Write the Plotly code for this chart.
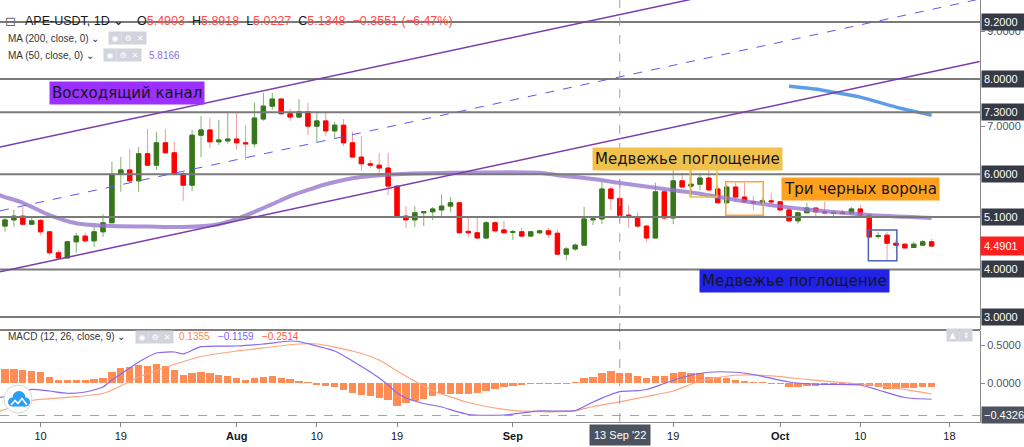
import plotly.graph_objects as go

# ---------------- data ----------------
opens = [4.91, 5.04, 5.12, 4.95, 5.03, 4.79, 4.35, 4.24, 4.58, 4.70,
         4.60, 4.79, 4.98, 6.00, 6.09, 5.86, 6.43, 6.19, 6.66, 6.45,
         6.01, 5.77, 6.82, 6.93, 6.68, 6.70, 6.74, 6.66, 6.64, 7.16,
         7.43, 7.58, 7.27, 7.20, 7.31, 7.01, 7.12, 6.91, 7.03, 6.66,
         6.36, 6.22, 6.19, 6.13, 5.75, 5.12, 5.04, 5.19, 5.21, 5.25,
         5.33, 5.40, 4.80, 4.77, 4.66, 4.98, 4.83, 4.78, 4.79, 4.70,
         4.77, 4.81, 4.76, 4.32, 4.43, 4.51, 5.04, 5.06, 5.69, 5.4903,
         5.14, 5.10, 4.91, 4.66, 5.63, 5.08, 5.86, 5.75, 5.79, 5.92,
         5.69, 5.40, 5.73, 5.52, 5.42, 5.40, 5.44, 5.42, 5.25, 5.02,
         5.19, 5.29, 5.21, 5.18, 5.20, 5.18, 5.27, 5.14, 4.69, 4.72,
         4.55, 4.53, 4.46, 4.51, 4.58]
highs = [5.12, 5.25, 5.31, 5.08, 5.06, 4.79, 4.41, 4.60, 4.77, 4.77,
         4.89, 5.16, 6.26, 6.36, 6.53, 6.57, 6.95, 6.89, 6.95, 6.68,
         6.05, 6.93, 7.22, 7.18, 7.14, 7.31, 7.29, 7.03, 7.50, 7.71,
         7.71, 7.60, 7.37, 7.58, 7.50, 7.31, 7.29, 7.10, 7.16, 6.89,
         6.80, 6.30, 6.45, 6.45, 5.77, 5.33, 5.33, 5.23, 5.31, 5.58,
         5.52, 5.42, 5.08, 5.08, 5.02, 5.02, 5.02, 4.83, 4.87, 4.81,
         4.83, 4.87, 4.83, 4.47, 4.55, 5.31, 5.12, 5.84, 5.75, 5.8918,
         5.35, 5.19, 4.93, 5.82, 5.67, 6.19, 6.03, 6.24, 6.03, 6.11,
         5.77, 5.77, 5.82, 5.82, 5.54, 5.50, 5.61, 5.42, 5.29, 5.21,
         5.40, 5.29, 5.42, 5.25, 5.25, 5.31, 5.35, 5.14, 4.79, 4.79,
         4.62, 4.55, 4.58, 4.62, 4.64]
lows = [4.79, 4.89, 4.93, 4.93, 4.72, 4.30, 4.22, 4.24, 4.35, 4.56,
        4.47, 4.68, 4.97, 5.63, 5.84, 5.63, 6.17, 6.09, 6.45, 5.98,
        5.44, 5.65, 6.36, 6.55, 6.61, 6.64, 6.51, 6.30, 6.57, 7.12,
        7.35, 7.24, 7.12, 7.20, 6.82, 6.66, 6.80, 6.76, 6.59, 6.36,
        6.07, 6.13, 5.94, 5.56, 5.10, 4.87, 4.89, 4.91, 5.04, 5.10,
        5.21, 4.76, 4.68, 4.64, 4.64, 4.77, 4.77, 4.62, 4.68, 4.68,
        4.74, 4.66, 4.30, 4.20, 4.39, 4.51, 4.93, 4.95, 5.25, 5.0227,
        4.87, 4.87, 4.58, 4.66, 5.04, 4.95, 5.73, 5.52, 5.67, 5.65,
        5.40, 5.40, 5.42, 5.40, 5.25, 5.33, 5.37, 5.23, 4.99, 4.95,
        5.19, 5.10, 5.16, 5.10, 5.16, 5.16, 5.12, 4.68, 4.64, 4.20,
        4.49, 4.45, 4.45, 4.49, 4.47]
closes = [5.04, 5.12, 4.95, 5.02, 4.79, 4.35, 4.24, 4.58, 4.70, 4.60,
          4.79, 4.98, 6.00, 6.09, 5.86, 6.43, 6.19, 6.66, 6.45, 6.01,
          5.77, 6.82, 6.93, 6.68, 6.72, 6.74, 6.66, 6.64, 7.18, 7.43,
          7.58, 7.27, 7.20, 7.31, 7.01, 7.12, 6.91, 7.03, 6.66, 6.36,
          6.22, 6.19, 6.13, 5.75, 5.10, 5.04, 5.19, 5.21, 5.27, 5.33,
          5.40, 4.77, 4.77, 4.66, 4.98, 4.81, 4.77, 4.79, 4.70, 4.79,
          4.81, 4.74, 4.32, 4.43, 4.51, 5.06, 5.06, 5.69, 5.49, 5.1348,
          5.10, 4.91, 4.66, 5.63, 5.08, 5.86, 5.73, 5.79, 5.92, 5.67,
          5.40, 5.73, 5.52, 5.42, 5.40, 5.44, 5.42, 5.25, 5.02, 5.19,
          5.29, 5.21, 5.19, 5.19, 5.18, 5.27, 5.14, 4.68, 4.71, 4.55,
          4.51, 4.45, 4.53, 4.58, 4.4901]
idx = list(range(len(closes)))  # day index, 0 = 6 Jul 2022

ma50_idx = [-1, 0, 2, 5, 8, 12, 16, 20, 24, 26, 28, 30, 32, 34, 36, 38, 40, 44, 50, 60,
            62, 66, 69, 74, 78, 82, 86, 90, 94, 98, 104]
ma50_val = [5.58, 5.52, 5.40, 5.14, 4.97, 4.91, 4.90, 4.89, 4.95, 5.06, 5.21, 5.37, 5.54, 5.67,
            5.79, 5.88, 5.94, 6.00, 6.03, 6.03, 5.98, 5.90, 5.8166, 5.69, 5.59, 5.46, 5.35,
            5.26, 5.19, 5.13, 5.08]
ma200_idx = [88, 91, 93, 96, 100, 104]
ma200_val = [7.85, 7.79, 7.72, 7.62, 7.41, 7.24]

macd_hist = [0.183, 0.183, 0.176, 0.160, 0.147, 0.084, 0.044, 0.044, 0.044, 0.044,
             0.049, 0.070, 0.151, 0.196, 0.213, 0.236, 0.227, 0.249, 0.227, 0.169,
             0.102, 0.138, 0.151, 0.138, 0.107, 0.093, 0.062, 0.044, 0.062, 0.084,
             0.098, 0.070, 0.049, 0.027, 0.004, -0.020, -0.040, -0.058, -0.093, -0.138,
             -0.156, -0.169, -0.200, -0.230, -0.300, -0.271, -0.240, -0.213, -0.173, -0.147,
             -0.147, -0.147, -0.147, -0.138, -0.100, -0.080, -0.058, -0.040, -0.027, -0.013,
             -0.002, -0.009, -0.009, -0.009, 0.002, 0.062, 0.084, 0.138, 0.164, 0.1355,
             0.129, 0.098, 0.062, 0.098, 0.093, 0.138, 0.142, 0.138, 0.129, 0.084,
             0.076, 0.062, 0.040, 0.031, 0.004, 0.001, -0.009, -0.009, -0.049, -0.049,
             -0.036, -0.036, -0.031, -0.027, -0.027, -0.022, -0.022, -0.040, -0.049, -0.080,
             -0.080, -0.070, -0.070, -0.049, -0.049]
macd_idx = [-1, 0, 2, 3, 5, 7, 9, 11, 12, 13, 15, 17, 19, 20, 22, 26, 29, 32, 33, 35,
            37, 39, 41, 42, 43, 44, 45, 47, 49, 52, 56, 60, 64, 66, 69, 71, 72, 74, 76, 79,
            82, 84, 88, 91, 96, 98, 101, 104]
macd_val = [-0.20, -0.18, -0.11, -0.084, -0.107, -0.137, -0.12, -0.053, 0.04, 0.12,
            0.28, 0.40, 0.413, 0.387, 0.484, 0.493, 0.52, 0.56, 0.553, 0.493,
            0.427, 0.293, 0.147, 0.067, -0.027, -0.133, -0.20, -0.273, -0.32, -0.42,
            -0.427, -0.373, -0.369, -0.253, -0.1159, -0.103, -0.087, -0.007, 0.073, 0.143,
            0.143, 0.113, 0.013, -0.017, -0.027, -0.093, -0.193, -0.217]
sig_idx = [-1, 0, 3, 7, 11, 13, 15, 18, 22, 26, 29, 33, 35, 39, 42, 44, 48, 52, 56, 60,
           64, 66, 69, 72, 75, 78, 82, 86, 90, 94, 98, 104]
sig_val = [-0.39, -0.353, -0.233, -0.191, -0.14, -0.04, 0.08, 0.207, 0.353, 0.427,
           0.467, 0.52, 0.52, 0.427, 0.307, 0.16, -0.10, -0.26, -0.353, -0.383,
           -0.369, -0.313, -0.2514, -0.18, -0.107, 0.027, 0.103, 0.096, 0.047, 0.004,
           -0.033, -0.147]

levels = [9.2, 8.0, 7.3, 6.0, 5.1, 4.0, 3.0]
last_price = 4.4901
cross_idx = 69
cross_macd = -0.4326

tick_idx = [4, 13, 26, 35, 44, 57, 75, 87, 96, 106]
tick_text = ["10", "19", "<b>Aug</b>", "10", "19", "<b>Sep</b>", "19", "<b>Oct</b>", "10", "18"]
price_ticks = [7, 9]          # the other ticks are hidden under the level boxes
macd_ticks = [0.0, 0.5]

# channel drawing anchors (day index, price)
channel_x = [-0.56, 109.4]
upper_y = [6.57, 10.97]
mid_y = [5.23, 9.68]
lower_y = [3.95, 8.37]

# pattern boxes: (x0, x1, y0, y1)
yellow_box = [76.9, 79.9, 5.52, 6.11]
orange_box = [80.9, 85.1, 5.14, 5.84]
blue_box = [96.9, 100.1, 4.18, 4.83]

labels = [
    ("Восходящий канал", 13.7, 7.696, "#9b30ff"),
    ("Медвежье поглощение", 76.6, 6.32, "#f0c24c"),
    ("Три черных ворона", 96.0, 5.689, "#ffa01e"),
    ("Медвежье поглощение", 88.6, 3.757, "#2323e8"),
]

# ---------------- figure ----------------
W, H = 1024, 447
MR, MB = 44, 25
PW, PH = W - MR, H - MB


def PX(px):
    return px / PW


def PY(py):
    return 1 - py / PH


FONT = "Liberation Sans, Arial, sans-serif"
fig = go.Figure()

fig.add_trace(go.Scatter(x=ma50_idx, y=ma50_val, mode="lines", xaxis="x", yaxis="y",
                         line=dict(color="rgba(149,117,205,0.78)", width=4, shape="spline", smoothing=0.6),
                         hoverinfo="skip", showlegend=False))
fig.add_trace(go.Scatter(x=ma200_idx, y=ma200_val, mode="lines", xaxis="x", yaxis="y",
                         line=dict(color="#5b9ee6", width=3.5, shape="spline", smoothing=0.6),
                         hoverinfo="skip", showlegend=False))

# wicks (light colours)
fig.add_trace(go.Candlestick(x=idx, open=opens, high=highs, low=lows, close=closes,
                             increasing=dict(line=dict(color="#82b36e", width=1), fillcolor="#82b36e"),
                             decreasing=dict(line=dict(color="#f29a9a", width=1), fillcolor="#f29a9a"),
                             whiskerwidth=0, hoverinfo="skip", showlegend=False, xaxis="x", yaxis="y"))
# bodies
body_hi = [max(o, c) for o, c in zip(opens, closes)]
body_lo = [min(o, c) for o, c in zip(opens, closes)]
fig.add_trace(go.Candlestick(x=idx, open=opens, high=body_hi, low=body_lo, close=closes,
                             increasing=dict(line=dict(color="#38761d", width=1), fillcolor="#38761d"),
                             decreasing=dict(line=dict(color="#ff0000", width=1), fillcolor="#ff0000"),
                             whiskerwidth=0, hoverinfo="skip", showlegend=False, xaxis="x", yaxis="y"))

# MACD pane
fig.add_trace(go.Bar(x=idx, y=macd_hist, width=0.82, xaxis="x", yaxis="y2",
                     marker=dict(color="#ff8c55", line=dict(width=0)),
                     hoverinfo="skip", showlegend=False))
fig.add_trace(go.Scatter(x=sig_idx, y=sig_val, mode="lines", xaxis="x", yaxis="y2",
                         line=dict(color="#ffa47e", width=1.2, shape="spline", smoothing=0.6),
                         hoverinfo="skip", showlegend=False))
fig.add_trace(go.Scatter(x=macd_idx, y=macd_val, mode="lines", xaxis="x", yaxis="y2",
                         line=dict(color="#8868f0", width=1.2, shape="spline", smoothing=0.6),
                         hoverinfo="skip", showlegend=False))

shapes = []
for lv in levels:
    shapes.append(dict(type="line", xref="x domain", x0=0, x1=1, yref="y", y0=lv, y1=lv,
                       line=dict(color="#7a7a7a", width=2), layer="above"))
shapes.append(dict(type="line", xref="x", yref="y", x0=channel_x[0], x1=channel_x[1],
                   y0=upper_y[0], y1=upper_y[1], line=dict(color="#7d3cad", width=1.5), layer="above"))
shapes.append(dict(type="line", xref="x", yref="y", x0=channel_x[0], x1=channel_x[1],
                   y0=lower_y[0], y1=lower_y[1], line=dict(color="#7d3cad", width=1.5), layer="above"))
shapes.append(dict(type="line", xref="x", yref="y", x0=channel_x[0], x1=channel_x[1],
                   y0=mid_y[0], y1=mid_y[1], line=dict(color="#5a5af0", width=1, dash="dash"), layer="above"))
for box, col in [(yellow_box, "#e8be45"), (orange_box, "#ffa33a"), (blue_box, "#4a62b8")]:
    shapes.append(dict(type="rect", xref="x", yref="y", x0=box[0], x1=box[1], y0=box[2], y1=box[3],
                       line=dict(color=col, width=1.5), fillcolor="rgba(0,0,0,0)", layer="above"))
# crosshair
shapes.append(dict(type="line", xref="x", yref="paper", x0=cross_idx, x1=cross_idx, y0=0, y1=1,
                   line=dict(color="#9aa0ab", width=1, dash="dash"), layer="above"))
shapes.append(dict(type="line", xref="x domain", yref="y2", x0=0, x1=1, y0=cross_macd, y1=cross_macd,
                   line=dict(color="#9aa0ab", width=1, dash="dash"), layer="above"))
# pane separator
shapes.append(dict(type="line", xref="x domain", yref="y domain", x0=0, x1=1, y0=0, y1=0,
                   line=dict(color="#555555", width=1.5), layer="above"))
# logo: white disc with a blue cloud
shapes.append(dict(type="circle", xref="paper", yref="paper", x0=PX(4), x1=PX(32), y0=PY(413), y1=PY(385),
                   line=dict(color="#d6d6d6", width=1), fillcolor="white", layer="above"))
CLOUD = "#2a9df4"
for cx, cy, r in [(12.5, 402, 4.5), (19, 397.5, 6.5), (25.5, 402, 4.5)]:
    shapes.append(dict(type="circle", xref="paper", yref="paper", x0=PX(cx - r), x1=PX(cx + r),
                       y0=PY(cy + r), y1=PY(cy - r), line=dict(width=0), fillcolor=CLOUD, layer="above"))
shapes.append(dict(type="rect", xref="paper", yref="paper", x0=PX(12.5), x1=PX(25.5), y0=PY(406.5), y1=PY(400),
                   line=dict(width=0), fillcolor=CLOUD, layer="above"))
zig = [(11, 405), (15, 400.5), (18, 403.5), (22, 398.5), (27, 405)]
path = "M " + " L ".join(f"{PX(a):.5f},{PY(b):.5f}" for a, b in zig)
shapes.append(dict(type="path", xref="paper", yref="paper", path=path,
                   line=dict(color="white", width=1.6), layer="above"))

ann = []
for text, x, y, bg in labels:
    ann.append(dict(x=x, y=y, xref="x", yref="y", text=text, showarrow=False, bgcolor=bg,
                    font=dict(family="DejaVu Sans", size=15, color="#131722"), borderpad=2))

# right axis value boxes
for lv in levels:
    ann.append(dict(x=1, y=lv, xref="paper", yref="y", xanchor="left", xshift=1, text=f"{lv:.4f}",
                    showarrow=False, bgcolor="#363a45", width=40, align="left",
                    font=dict(family=FONT, size=11, color="white"), borderpad=2))
ann.append(dict(x=1, y=last_price, xref="paper", yref="y", xanchor="left", xshift=0, text=f"{last_price:.4f}",
                showarrow=False, bgcolor="#ff1f1f", width=41, align="left",
                font=dict(family=FONT, size=11, color="white"), borderpad=3))
ann.append(dict(x=1, y=cross_macd, xref="paper", yref="y2", xanchor="left", xshift=1,
                text=f"{cross_macd:.4f}".replace("-", "−"), showarrow=False, bgcolor="#4c525e", width=44,
                align="left", font=dict(family=FONT, size=11, color="white"), borderpad=2))
ann.append(dict(x=cross_idx, y=0, xref="x", yref="paper", yanchor="top", yshift=-2, text="13 Sep '22",
                showarrow=False, bgcolor="#4c525e", font=dict(family=FONT, size=11, color="white"), borderpad=4))

# header legend
RED = "#ff4a4a"
ann.append(dict(x=PX(3), y=PY(12), xref="paper", yref="paper", xanchor="left", text="⊟", showarrow=False,
                font=dict(family="DejaVu Sans", size=13, color="#6a6d78")))
ann.append(dict(x=PX(23), y=PY(12), xref="paper", yref="paper", xanchor="left", text="APE-USDT, 1D ⌄",
                showarrow=False, font=dict(family=FONT, size=12.5, color="#131722")))
ohlc = (f'O<span style="color:{RED}">5.4903</span>  H<span style="color:{RED}">5.8918</span>  '
        f'L<span style="color:{RED}">5.0227</span>  C<span style="color:{RED}">5.1348</span>  '
        f'<span style="color:{RED}">−0.3551 (−6.47%)</span>')
ann.append(dict(x=PX(135), y=PY(12), xref="paper", yref="paper", xanchor="left", text=ohlc,
                showarrow=False, font=dict(family=FONT, size=12.5, color="#131722")))
ann.append(dict(x=PX(6), y=PY(31), xref="paper", yref="paper", xanchor="left", text="MA (200, close, 0) ⌄",
                showarrow=False, font=dict(family=FONT, size=10, color="#333333")))
ann.append(dict(x=PX(6), y=PY(48), xref="paper", yref="paper", xanchor="left", text="MA (50, close, 0) ⌄",
                showarrow=False, font=dict(family=FONT, size=10, color="#333333")))
ann.append(dict(x=PX(147), y=PY(48), xref="paper", yref="paper", xanchor="left", text="5.8166",
                showarrow=False, font=dict(family=FONT, size=10, color="#8e6ee0")))
ann.append(dict(x=PX(6), y=PY(344), xref="paper", yref="paper", xanchor="left", text="MACD (12, 26, close, 9) ⌄",
                showarrow=False, font=dict(family=FONT, size=10, color="#333333")))
macd_leg = ('<span style="color:#ff7f50">0.1355</span>   <span style="color:#7b61ff">−0.1159</span>   '
            '<span style="color:#ff5a36">−0.2514</span>')
ann.append(dict(x=PX(177), y=PY(344), xref="paper", yref="paper", xanchor="left", text=macd_leg,
                showarrow=False, font=dict(family=FONT, size=10, color="#333333")))
icon_sets = [(108, 31), (103, 48), (135, 344)]
for x0, yy in icon_sets:
    for k, g in enumerate(["◉", "⚙", "✕"]):
        ann.append(dict(x=PX(x0 + k * 12.5), y=PY(yy), xref="paper", yref="paper", xanchor="left", text=g,
                        showarrow=False, bgcolor="#d1d4dc", width=10, height=10,
                        font=dict(family="DejaVu Sans", size=8, color="white")))
for k, g in enumerate(["▲", "⇕"]):
    ann.append(dict(x=PX(946 + k * 13), y=PY(342), xref="paper", yref="paper", xanchor="left", text=g,
                    showarrow=False, bgcolor="#d1d4dc", width=10, height=10,
                    font=dict(family="DejaVu Sans", size=8, color="white")))

fig.update_layout(
    width=W, height=H,
    margin=dict(l=0, r=MR, t=0, b=MB),
    paper_bgcolor="white", plot_bgcolor="white",
    hovermode=False, showlegend=False,
    font=dict(family=FONT),
    xaxis=dict(domain=[0, 1], range=[-0.56, 109.43], anchor="y2", showgrid=False, zeroline=False,
               showline=True, linecolor="#888888", linewidth=1, ticks="outside", ticklen=4,
               tickcolor="#888888", tickvals=tick_idx, ticktext=tick_text,
               tickfont=dict(family=FONT, size=11, color="#131722"), rangeslider=dict(visible=False),
               fixedrange=True),
    yaxis=dict(domain=[1 - 330 / PH, 1], range=[2.727, 9.66], side="right", anchor="x", showgrid=False,
               zeroline=False, showline=True, linecolor="#888888", linewidth=1, ticks="outside",
               ticklen=4, tickcolor="#888888", tickvals=price_ticks,
               ticktext=[f"{v:.4f}" for v in price_ticks],
               tickfont=dict(family=FONT, size=11, color="#50535e")),
    yaxis2=dict(domain=[0, 1 - 331 / PH], range=[-0.52, 0.6933], side="right", anchor="x", showgrid=False,
                zeroline=False, showline=True, linecolor="#888888", linewidth=1, ticks="outside",
                ticklen=4, tickcolor="#888888", tickvals=macd_ticks,
                ticktext=[f"{v:.4f}" for v in macd_ticks],
                tickfont=dict(family=FONT, size=11, color="#50535e")),
    shapes=shapes,
    annotations=ann,
    bargap=0,
)

fig.write_html("out.html", config={"displayModeBar": False},
               post_script="document.body.style.margin='0';document.body.style.overflow='hidden';")
